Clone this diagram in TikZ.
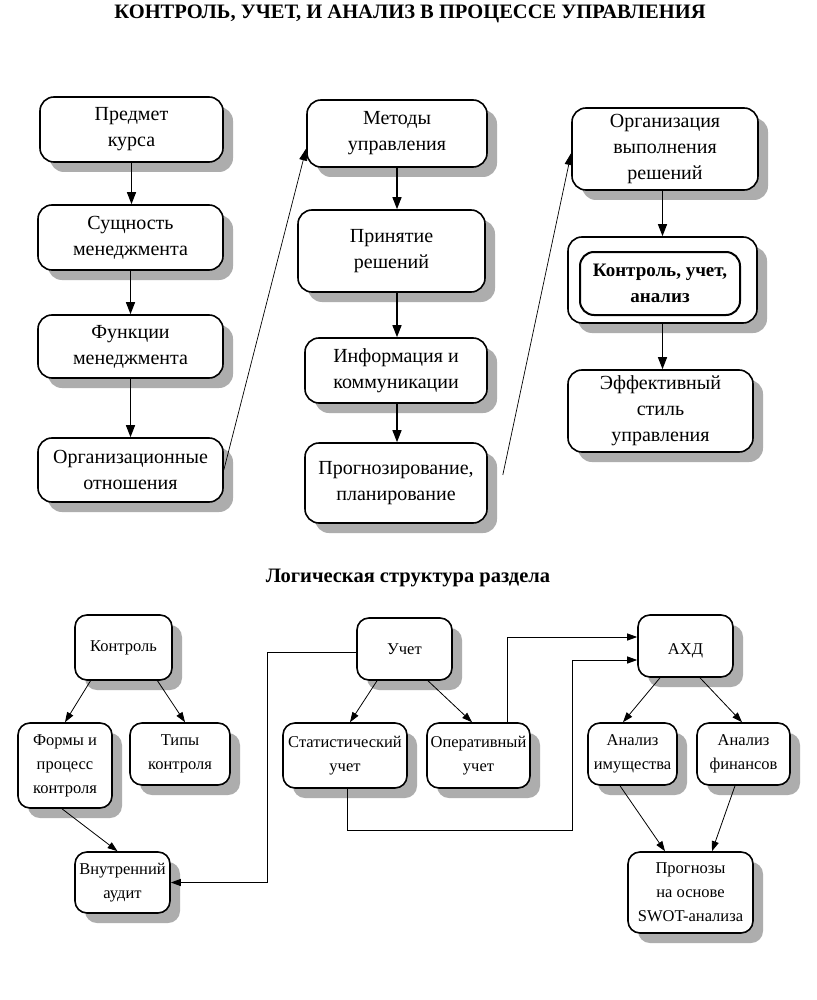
\documentclass[tikz,border=0pt]{standalone}
\usepackage{fontspec}
\setmainfont{Liberation Serif}
\usetikzlibrary{arrows.meta,shadows,calc}
\begin{document}
\begin{tikzpicture}[x=1pt,y=-1pt,
  shad/.style={drop shadow={shadow xshift=10pt, shadow yshift=-10pt, fill=black!32, opacity=1}},
  box/.style={draw, fill=white, line width=1.6pt, rounded corners=14pt, align=center, inner sep=1pt,
    font=\fontsize{20}{26}\selectfont, shad},
  sbox/.style={draw, fill=white, line width=1.6pt, rounded corners=12pt, align=center, inner sep=1pt,
    font=\fontsize{16.5}{24}\selectfont, shad},
  innerbox/.style={draw, fill=white, line width=2pt, rounded corners=14pt, align=center, inner sep=1pt,
    font=\bfseries\fontsize{19}{26}\selectfont},
  conn/.style={-{Triangle[length=12pt,width=9pt]}, line width=1.2pt},
  diag/.style={-{Triangle[length=12pt,width=8pt]}, line width=0.7pt},
  sconn/.style={-{Triangle[length=10pt,width=7pt]}, line width=0.8pt},
  lconn/.style={-{Triangle[length=10pt,width=7pt]}, line width=0.9pt},
  sz/.style n args={2}{minimum width=#1pt, minimum height=#2pt},
]
\useasboundingbox[fill=white] (0,0) rectangle (816,1000);

% titles
\node[font=\bfseries\fontsize{20.5}{22}\selectfont] (title) at (410,14) {КОНТРОЛЬ, УЧЕТ, И АНАЛИЗ В ПРОЦЕССЕ УПРАВЛЕНИЯ};
\node[font=\bfseries\fontsize{20.5}{22}\selectfont] (sub) at (408,578) {Логическая структура раздела};

% left column
\node[box, sz={183}{65}] (p1) at (131.5,129.5) {Предмет\\курса};
\node[box, sz={185}{65}] (p2) at (130.5,237.5) {Сущность\\менеджмента};
\node[box, sz={185}{63}] (p3) at (130.5,346.5) {Функции\\менеджмента};
\node[box, sz={185}{64}] (p4) at (130.5,470) {Организационные\\отношения};

% middle column
\node[box, sz={180}{67}] (m1) at (397,133.5) {Методы\\управления};
\node[box, sz={187}{82}] (m2) at (391.5,251) {Принятие\\решений};
\node[box, sz={182}{65}] (m3) at (396,370.5) {Информация и\\коммуникации};
\node[box, sz={182}{80}] (m4) at (396,483) {Прогнозирование,\\планирование};

% right column
\node[box, sz={186}{82}] (r1) at (665,149) {Организация\\выполнения\\решений};
\node[box, sz={189}{86}] (r2) at (662.5,280) {};
\node[innerbox, sz={160}{63}] (r2i) at (660,283.5) {Контроль, учет,\\анализ};
\node[box, sz={185}{82}] (r3) at (660.5,411) {Эффективный\\стиль\\управления};

% top connectors
\draw[conn] (p1.south) -- (p1.south |- p2.north);
\draw[conn] (p2.south) -- (p2.south |- p3.north);
\draw[conn] (p3.south) -- (p3.south |- p4.north);
\draw[conn] (m1.south) -- (m1.south |- m2.north);
\draw[conn] (m1.south |- m2.south) -- (m1.south |- m3.north);
\draw[conn] (m1.south |- m3.south) -- (m1.south |- m4.north);
\draw[conn] (r2.north |- r1.south) -- (r2.north);
\draw[conn] (r2.south) -- (r2.south |- r3.north);
\draw[diag] (p4.east) -- ($(m1.west)+(0,15)$);
\coordinate (m4out) at ($(m4.east)+(15,-8)$);
\draw[diag] (m4out) -- ($(r1.west)+(0,4)$);

% bottom: control
\node[sbox, sz={97}{65}] (k1) at (123.5,647.5) {Контроль};
\node[sbox, sz={94}{85}] (k2) at (65,765.5) {Формы и\\процесс\\контроля};
\node[sbox, sz={100}{62}] (k3) at (180,754) {Типы\\контроля};
\node[sbox, sz={95}{61}] (k4) at (122.5,882.5) {Внутренний\\аудит};

% bottom: accounting
\node[sbox, sz={95}{62}] (u1) at (404.5,649) {Учет};
\node[sbox, sz={124}{65}] (u2) at (345,755.5) {Статистический\\учет};
\node[sbox, sz={103}{65}] (u3) at (478.5,755.5) {Оперативный\\учет};

% bottom: analysis
\node[sbox, sz={95}{62}] (a1) at (685.5,646) {\raisebox{-8pt}[0pt][0pt]{АХД}};
\node[sbox, sz={89}{62}] (a2) at (632.5,754) {Анализ\\имущества};
\node[sbox, sz={93}{62}] (a3) at (743.5,754) {Анализ\\финансов};
\node[sbox, sz={125}{81}] (a4) at (690.5,892.5) {Прогнозы\\на основе\\SWOT-анализа};

% bottom connectors
\draw[sconn] ($(k1.south)+(-33,0)$) -- (k2.north);
\draw[sconn] ($(k1.south)+(34,0)$) -- ($(k3.north)+(5,0)$);
\draw[sconn] ($(k2.south)+(-3,0)$) -- ($(k4.north)+(-5,0)$);
\draw[lconn] ($(u1.west)+(0,3)$) -- ++(-89,0) |- (k4.east);
\draw[sconn] ($(u1.south)+(-27.5,0)$) -- ($(u2.north)+(5,0)$);
\draw[sconn] ($(u1.south)+(23.5,0)$) -- ($(u3.north)+(-6.5,0)$);
\draw[lconn] ($(u3.north)+(28.5,0)$) |- ($(a1.west)+(0,-9)$);
\draw[lconn] ($(u2.south)+(2,0)$) -- ++(0,42) -- ++(225,0) |- ($(a1.west)+(0,14)$);
\draw[sconn] ($(a1.south)+(-25.5,0)$) -- ($(a2.north)+(-9.5,0)$);
\draw[sconn] ($(a1.south)+(14.5,0)$) -- ($(a3.north)+(-1.5,0)$);
\draw[sconn] ($(a2.south)+(-12.5,0)$) -- ($(a4.north)+(-25.5,0)$);
\draw[sconn] ($(a3.south)+(-8.5,0)$) -- ($(a4.north)+(21.5,0)$);
\end{tikzpicture}
\end{document}
